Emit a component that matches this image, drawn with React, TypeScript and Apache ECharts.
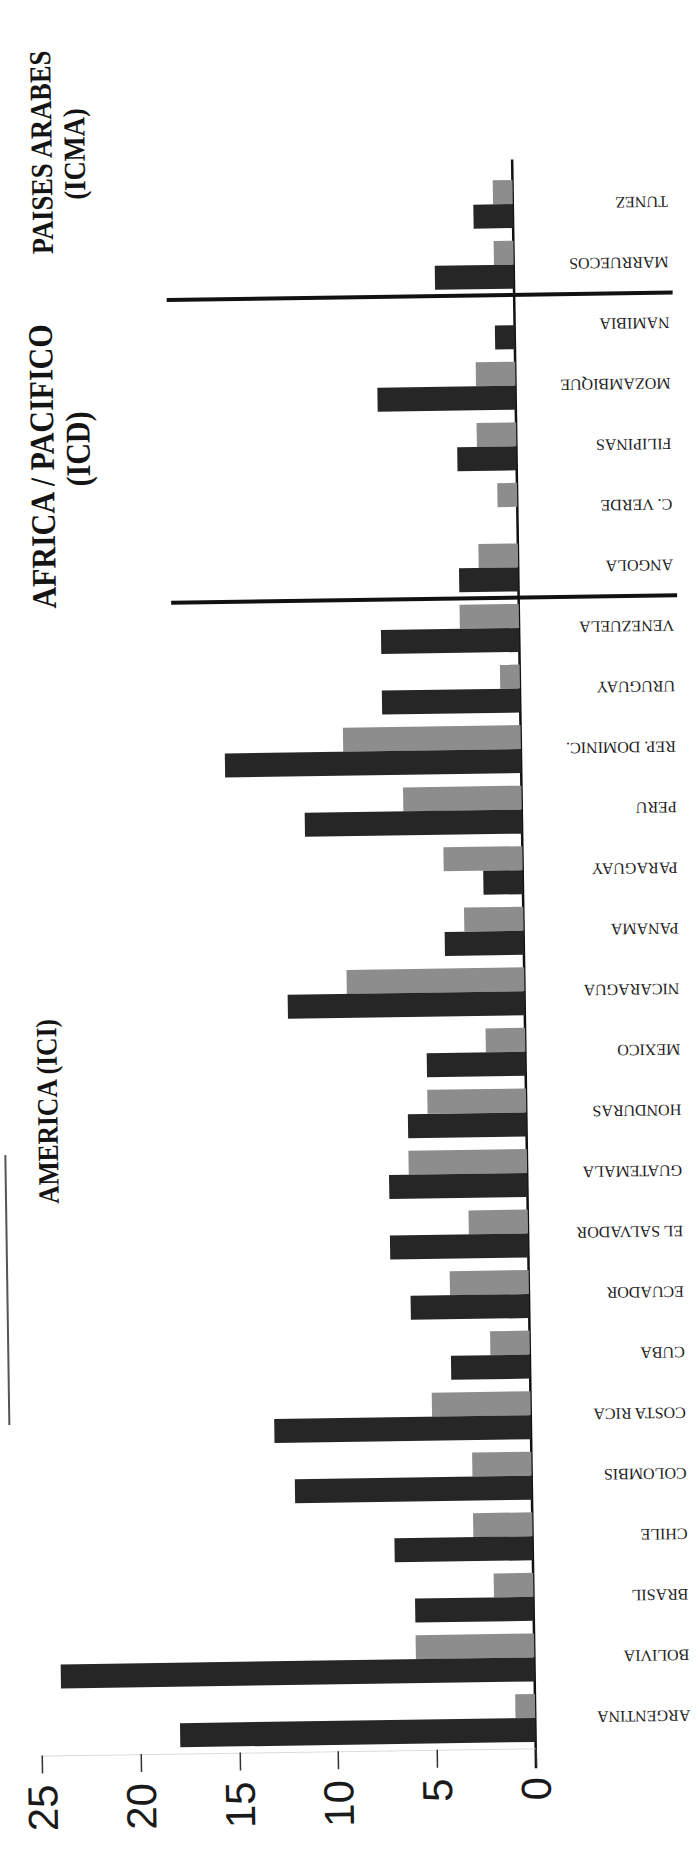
import React, { useEffect, useRef } from 'react';
import * as echarts from 'echarts';

// Categories from bottom to top of the (rotated) chart
const categories = [
  'ARGENTINA', 'BOLIVIA', 'BRASIL', 'CHILE', 'COLOMBIS', 'COSTA RICA', 'CUBA',
  'ECUADOR', 'EL SALVADOR', 'GUATEMALA', 'HONDURAS', 'MEXICO', 'NICARAGUA',
  'PANAMA', 'PARAGUAY', 'PERU', 'REP. DOMINIC.', 'URUGUAY', 'VENEZUELA',
  'ANGOLA', 'C. VERDE', 'FILIPINAS', 'MOZAMBIQUE', 'NAMIBIA',
  'MARRUECOS', 'TUNEZ',
];
const darkValues = [18, 24, 6, 7, 12, 13, 4, 6, 7, 7, 6, 5, 12, 4, 2, 11, 15, 7, 7, 3, 0, 3, 7, 1, 4, 2];
const grayValues = [1, 6, 2, 3, 3, 5, 2, 4, 3, 6, 5, 2, 9, 3, 4, 6, 9, 1, 3, 2, 1, 2, 2, 0, 1, 1];
const valueMin = 0;
const valueMax = 25;
const valueStep = 5;
// last category of each group that is followed by a separator line
const groupEnds = ['VENEZUELA', 'NAMIBIA'];
const groupTitles = [
  { lines: ['AMERICA (ICI)'] },
  { lines: ['AFRICA / PACIFICO', '(ICD)'] },
  { lines: ['PAISES ARABES', '(ICMA)'] },
];

export default function App() {
  const ref = useRef<HTMLDivElement>(null);

  useEffect(() => {
    if (!ref.current) return;
    const chart = echarts.init(ref.current, undefined, { renderer: 'svg' });
    chart.setOption({
      animation: false,
      backgroundColor: '#ffffff',
      grid: { left: 30, right: 175.5, top: 176.3, bottom: 103.1, containLabel: false },
      xAxis: {
        type: 'value',
        inverse: true,
        min: valueMin,
        max: valueMax,
        interval: valueStep,
        position: 'bottom',
        axisLine: { show: true, lineStyle: { color: '#d4d4d4', type: 'dotted', width: 1 } },
        axisTick: { show: true, length: 18, lineStyle: { color: '#333', width: 1.5 } },
        splitLine: { show: false },
        axisLabel: {
          rotate: 90,
          fontSize: 42,
          fontFamily: '"Liberation Sans", Arial, sans-serif',
          color: '#1a1a1a',
          margin: 29,
          padding: [0, 0, 30, 0],
        },
      },
      yAxis: {
        type: 'category',
        data: categories,
        position: 'right',
        axisLine: { show: false },
        axisTick: { show: false },
        splitLine: { show: false },
        axisLabel: {
          interval: 0,
          rotate: 180,
          align: 'left',
          verticalAlign: 'middle',
          margin: 155,
          padding: [20, 0, 0, 0],
          fontSize: 16,
          fontFamily: '"Liberation Serif", "Times New Roman", serif',
          color: '#1e1e1e',
        },
      },
      series: [
        {
          type: 'bar',
          name: 'gray',
          data: grayValues,
          barWidth: 24,
          barGap: '0%',
          itemStyle: { color: '#8d8d8d' },
        },
        {
          type: 'bar',
          name: 'dark',
          data: darkValues,
          barWidth: 24,
          barGap: '0%',
          itemStyle: { color: '#262626' },
        },
      ],
    });

    const x0 = chart.convertToPixel({ xAxisIndex: 0 }, 0) as number;
    const yOf = (name: string) => chart.convertToPixel({ yAxisIndex: 0 }, name) as number;
    const seps = groupEnds.map((name) => {
      const i = categories.indexOf(name);
      return (yOf(categories[i]) + yOf(categories[i + 1])) / 2;
    });

    const titleSizes = [25.5, 30, 26.5];
    const titlePos = [
      [{ x: 45, y: 1107 }],
      [{ x: 49, y: 462 }, { x: 85, y: 445 }],
      [{ x: 53, y: 148 }, { x: 86, y: 150 }],
    ];
    const titleEls: any[] = [];
    groupTitles.forEach((g, gi) => {
      g.lines.forEach((line, li) => {
        const p = titlePos[gi][li];
        titleEls.push({
          type: 'text',
          x: p.x,
          y: p.y,
          rotation: Math.PI / 2,
          scaleY: 1.15,
          style: {
            text: line,
            font: `bold ${titleSizes[gi]}px "Liberation Serif", "Times New Roman", serif`,
            fill: '#141414',
            align: 'center',
            verticalAlign: 'middle',
            textAlign: 'center',
            textVerticalAlign: 'middle',
          },
        });
      });
    });

    chart.setOption({
      graphic: [
        {
          type: 'line',
          shape: { x1: x0, y1: 162, x2: x0, y2: 1771 },
          style: { stroke: '#111', lineWidth: 2.5 },
        },
        ...seps.map((y) => ({
          type: 'line',
          shape: { x1: 176, y1: y, x2: 682, y2: y },
          style: { stroke: '#111', lineWidth: 4 },
        })),
        {
          type: 'line',
          shape: { x1: 2, y1: 1150, x2: 2, y2: 1420 },
          style: { stroke: '#555', lineWidth: 2 },
        },
        ...titleEls,
      ],
    });

    return () => chart.dispose();
  }, []);

  return (
    <div
      ref={ref}
      style={{
        position: 'absolute',
        left: 0,
        top: 0,
        width: 699,
        height: 1854,
        background: '#fff',
        transform: 'rotate(-0.85deg)',
        transformOrigin: '50% 50%',
      }}
    />
  );
}
